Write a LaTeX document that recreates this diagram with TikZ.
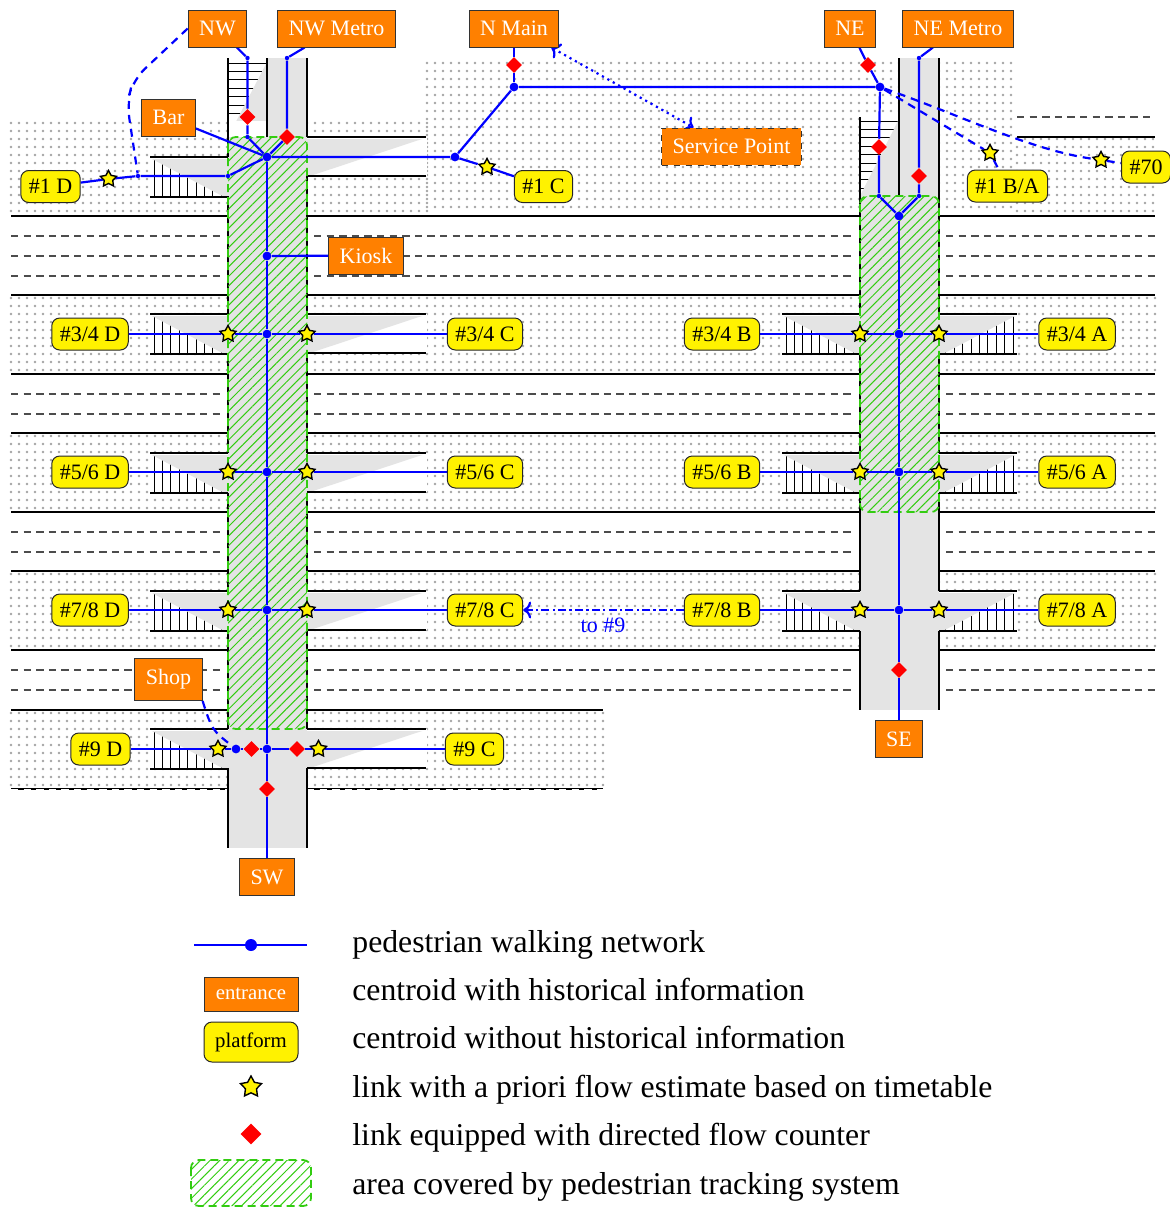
\documentclass[tikz,border=0pt]{standalone}
\usepackage{fontspec}
\setmainfont{Liberation Serif}
\usepackage{tikz}
\usetikzlibrary{arrows.meta,patterns.meta,positioning,shapes.geometric}
\usepackage{xcolor}
\definecolor{walk}{HTML}{0000FF}
\definecolor{exitor}{HTML}{FF8000}
\definecolor{pfyellow}{HTML}{FFF200}
\definecolor{counter}{HTML}{FF0000}
\definecolor{track}{HTML}{33CC11}
\definecolor{floorgray}{HTML}{E4E4E4}
\pgfdeclarelayer{plan}
\pgfdeclarelayer{links}
\pgfsetlayers{plan,links,main}
\tikzset{entrance/.style={draw=black!80,fill=exitor,text=white,line width=.5pt,inner xsep=5.5pt,inner ysep=0pt,minimum height=18.5pt,font=\fontsize{11}{13}\selectfont},platform/.style={draw=black!85,fill=pfyellow,rounded corners=4pt,line width=.5pt,inner xsep=4pt,inner ysep=0pt,minimum height=16pt,font=\fontsize{11}{13}\selectfont},walkdot/.style={circle,fill=walk,inner sep=0pt,minimum size=4.4pt},tinydot/.style={circle,fill=walk,inner sep=0pt,minimum size=2.2pt},flowstar/.style={star,star points=5,star point ratio=1.9,draw=black,fill=pfyellow,line width=.7pt,inner sep=0pt,minimum size=8.5pt},flowdiamond/.style={diamond,fill=counter,inner sep=0pt,minimum size=8pt},link/.style={walk,line width=1.1pt},dashedlink/.style={walk,line width=1.1pt,dash pattern=on 4pt off 3pt},dotarea/.style={fill=black!36},trackarea/.style={pattern={Lines[angle=45,distance=3.4pt,line width=.5pt]},pattern color=track,draw=track,line width=.9pt,dash pattern=on 4pt off 2.5pt,rounded corners=4pt},wall/.style={black,line width=1pt},lane/.style={black!70,line width=.55pt,dash pattern=on 3.7pt off 2.6pt},stairline/.style={black,line width=.45pt},legendtext/.style={anchor=base west,inner sep=0pt,font=\fontsize{15.87}{19}\selectfont}}
\begin{document}
\begin{tikzpicture}[x=.5pt,y=-.5pt]
\useasboundingbox (0,0) rectangle (1170,1207);
\begin{pgfonlayer}{plan}
% platform areas
\foreach \xa/\ya/\xb/\yb in {11/123/227/213,307/123/427/213,427/63/1013/213,1017/139/1155/213,11/298/1155/371,11/436/1155/509,11/574/1155/647,11/713/603/786} {
\pgfmathsetmacro{\xc}{\xa+8}
\pgfmathsetmacro{\yc}{\ya+8}
\foreach \yy in {\ya,\yc,...,\yb} \path[dotarea] \foreach \xx in {\xa,\xc,...,\xb} {(\xx,\yy) circle (1.3)};
}
% stairs on the left of a corridor wall
\foreach \xx/\yy in {228/157,228/314,228/453,228/591,228/729,860/314,860/453,860/591} {
\fill[white] (\xx-78,\yy) rectangle (\xx,\yy+40);
\foreach \ss in {1,...,9} \draw[stairline] (\xx-82.4+\ss*8.4,\yy+2) -- (\xx-82.4+\ss*8.4,\yy+40);
\fill[floorgray] (\xx-76,\yy+2) -- (\xx,\yy+2) -- (\xx,\yy+42) -- cycle;
\draw[wall] (\xx-78,\yy) -- (\xx,\yy) (\xx-78,\yy+40) -- (\xx,\yy+40);
}
% stairs on the right of the east corridor
\foreach \yy in {314,453,591} {
\fill[white] (939,\yy) rectangle (1017,\yy+40);
\foreach \ss in {1,...,9} \draw[stairline] (1021.4-\ss*8.4,\yy+2) -- (1021.4-\ss*8.4,\yy+40);
\fill[floorgray] (1015,\yy+2) -- (939,\yy+2) -- (939,\yy+42) -- cycle;
\draw[wall] (939,\yy) -- (1017,\yy) (939,\yy+40) -- (1017,\yy+40);
}
% ramps on the right of the west corridor
\foreach \yy in {137,314,453,591,729} {
\fill[white] (307,\yy) rectangle (427,\yy+39);
\fill[floorgray] (422,\yy+2) -- (307,\yy+2) -- (307,\yy+40) -- cycle;
\draw[wall] (307,\yy) -- (426,\yy) (307,\yy+39) -- (426,\yy+39);
}
% stairs at the north ends
\fill[white] (860,117) rectangle (899,196);
\foreach \ss in {0,...,8} {
\draw[stairline] (229,63+\ss*8.4) -- (266,63+\ss*8.4);
\draw[stairline] (861,121+\ss*8.4) -- (898,121+\ss*8.4);
}
\fill[floorgray] (267,62) -- (267,137) -- (228,137) -- cycle;
\fill[floorgray] (899,119) -- (899,196) -- (860,196) -- cycle;
% corridors
\fill[white] (228,121) rectangle (307,137) (899,58) rectangle (939,60);
\fill[floorgray] (228,137) rectangle (307,848);
\fill[floorgray] (267,58) rectangle (307,137);
\fill[floorgray] (860,196) rectangle (939,710);
\fill[floorgray] (899,58) rectangle (939,196);
% lanes
\foreach \yy in {216,295,374,433,512,571,650} \draw[wall] (11,\yy) -- (228,\yy) (307,\yy) -- (860,\yy) (939,\yy) -- (1155,\yy);
\foreach \yy in {236,256,276,394,414,532,552,670,690} \draw[lane] (11,\yy) -- (221,\yy) (314,\yy) -- (853,\yy) (946,\yy) -- (1155,\yy);
\foreach \yy in {710,789} \draw[wall] (11,\yy) -- (228,\yy) (307,\yy) -- (603,\yy);
\draw[lane,white,line width=.3pt] (11,789) -- (228,789) (307,789) -- (603,789);
\draw[lane] (1017,117) -- (1155,117);
\draw[wall] (1017,137) -- (1155,137);
% walls of the corridors
\draw[wall] (228,58) -- (228,157) (228,196) -- (228,314) (307,58) -- (307,137) (307,176) -- (307,314) (267,58) -- (267,137);
\draw[wall] (860,117) -- (860,314) (939,58) -- (939,314) (899,58) -- (899,196);
\foreach \xx in {228,307,860,939} \draw[wall] (\xx,354) -- (\xx,453) (\xx,493) -- (\xx,591);
\foreach \xx in {228,307} \draw[wall] (\xx,631) -- (\xx,729) (\xx,768) -- (\xx,848);
\foreach \xx in {860,939} \draw[wall] (\xx,631) -- (\xx,710);
% tracking
\path[trackarea] (228,137) rectangle (307,729);
\path[trackarea] (860,196) rectangle (939,512);
\end{pgfonlayer}
% entrances
\node[entrance] (NW) at (217.5,28.5) {NW};
\node[entrance] (NWMetro) at (336.5,28.5) {NW Metro};
\node[entrance] (NMain) at (514,28.5) {N Main};
\node[entrance] (NE) at (850,28.5) {NE};
\node[entrance] (NEMetro) at (958,28.5) {NE Metro};
\node[entrance] (Bar) at (168.5,117.5) {Bar};
\node[entrance,dashed] (ServicePoint) at (731.5,146.5) {Service Point};
\node[entrance] (Kiosk) at (366,255.5) {Kiosk};
\node[entrance,minimum height=21pt] (Shop) at (168.5,679.5) {Shop};
\node[entrance] (SW) at (267,877) {SW};
\node[entrance] (SE) at (899,739) {SE};
% platforms
\node[platform] (D1) at (50.5,186.5) {\#1 D};
\node[platform] (C1) at (543.5,186.5) {\#1 C};
\node[platform] (BA1) at (1007.5,186) {\#1 B/A};
\node[platform] (P70) at (1146,167) {\#70};
\node[platform] (D9) at (100.5,749) {\#9 D};
\node[platform] (C9) at (474.5,749) {\#9 C};
% junctions
\node[walkdot] (hubW) at (267,157) {};
\node[walkdot] (hubE) at (899,216) {};
\node[walkdot] (jC) at (455,157) {};
\node[walkdot] (jN) at (514,87) {};
\node[walkdot] (jNE) at (880,87) {};
\node[walkdot] (jKiosk) at (267,256) {};
\node[walkdot] (jDa) at (236,749) {};
\node[walkdot] (jDb) at (267,749) {};
\node[tinydot] (tNW) at (247.5,58) {};
\node[tinydot] (tNWb) at (247.5,137) {};
\node[tinydot] (tNWM) at (287,58) {};
\node[tinydot] (tD) at (228,176) {};
\node[tinydot] (tDb) at (138,176) {};
\node[tinydot] (tNEb) at (879,196) {};
\node[tinydot] (tNEM) at (919,58) {};
\node[tinydot] (tNEMb) at (919,196) {};
% counters
\node[flowdiamond] (cNW) at (247.5,117) {};
\node[flowdiamond] (cNWM) at (287,137) {};
\node[flowdiamond] (cN) at (514,65) {};
\node[flowdiamond] (cNE) at (868,65) {};
\node[flowdiamond] (cNEb) at (879,147) {};
\node[flowdiamond] (cNEM) at (919,176) {};
\node[flowdiamond] (cDa) at (251.5,749) {};
\node[flowdiamond] (cC) at (297,749) {};
\node[flowdiamond] (cSW) at (267,789) {};
\node[flowdiamond] (cSE) at (899,670) {};
% timetable links
\node[flowstar] (sD1) at (108.5,179) {};
\node[flowstar] (sC1) at (487,167) {};
\node[flowstar] (sBA) at (990,153) {};
\node[flowstar] (s70) at (1101,160) {};
\node[flowstar] (sD9) at (218,749) {};
\node[flowstar] (sC9) at (318.5,749) {};
\coordinate (bendA) at (133,80);
\coordinate (bendB) at (127,103);
\foreach \row/\yy in {3/334,5/472,7/610} {
\pgfmathtruncatemacro{\nxt}{\row+1}
\node[platform] (D\row) at (90,\yy) {\#\row/\nxt{} D};
\node[platform] (C\row) at (485,\yy) {\#\row/\nxt{} C};
\node[platform] (B\row) at (722,\yy) {\#\row/\nxt{} B};
\node[platform] (A\row) at (1077,\yy) {\#\row/\nxt{} A};
\node[walkdot] (jW\row) at (267,\yy) {};
\node[walkdot] (jE\row) at (899,\yy) {};
\node[flowstar] (sDa\row) at (228,\yy) {};
\node[flowstar] (sCa\row) at (307,\yy) {};
\node[flowstar] (sBa\row) at (860,\yy) {};
\node[flowstar] (sAa\row) at (939,\yy) {};
\begin{pgfonlayer}{links}
\draw[link] (D\row) -- (sDa\row) -- (jW\row) -- (sCa\row) -- (C\row);
\draw[link] (B\row) -- (sBa\row) -- (jE\row) -- (sAa\row) -- (A\row);
\end{pgfonlayer}
}
\node[font=\fontsize{11}{13}\selectfont,text=walk] (toNine) at (603,625) {to \#9};
\begin{pgfonlayer}{links}
\draw[link] (NW) -- (tNW) -- (cNW) -- (tNWb) -- (hubW);
\draw[link] (NWMetro) -- (tNWM) -- (cNWM) -- (hubW);
\draw[link] (Bar) -- (hubW);
\draw[link] (hubW) -- (tD) -- (tDb) -- (sD1) -- (D1);
\draw[dashedlink,rounded corners=8pt] (NW.west) -- (bendA) -- (bendB) -- (tDb);
\draw[link] (hubW) -- (jC) -- (jN) -- (jNE);
\draw[link] (jC) -- (sC1) -- (C1);
\draw[link] (NMain) -- (cN) -- (jN);
\draw[link] (NE) -- (cNE) -- (jNE) -- (cNEb) -- (tNEb) -- (hubE);
\draw[link] (NEMetro) -- (tNEM) -- (cNEM) -- (tNEMb) -- (hubE);
\draw[dashedlink] (jNE) -- (sBA) -- (BA1);
\draw[dashedlink] (jNE) .. controls (960,115) and (1030,150) .. (s70) -- (P70);
\draw[walk,line width=1.1pt,dotted,<->] ([xshift=-4pt]NMain.south east) -- ([xshift=-19pt]ServicePoint.north);
\draw[link] (hubW) -- (jKiosk) -- (jW3) -- (jW5) -- (jW7) -- (jDb) -- (cSW) -- (SW);
\draw[link] (jKiosk) -- (Kiosk);
\draw[link] (hubE) -- (jE3) -- (jE5) -- (jE7) -- (cSE) -- (SE);
\draw[link] (D9) -- (sD9) -- (jDa) -- (cDa) -- (jDb) -- (cC) -- (sC9) -- (C9);
\draw[dashedlink] (Shop.south east) .. controls (212,730) .. (jDa);
\draw[walk,line width=1.1pt,dash pattern=on 4pt off 1.6pt on 1.2pt off 1.6pt,->] (B7) -- (C7);
\end{pgfonlayer}
% legend
\coordinate (keyA) at (194,945);
\coordinate (keyB) at (307,945);
\node[walkdot,minimum size=6pt] (keyDot) at (251,945) {};
\begin{pgfonlayer}{links}
\draw[link] (keyA) -- (keyB);
\end{pgfonlayer}
\node[entrance,minimum width=47pt,minimum height=17pt,font=\fontsize{10.4}{12}\selectfont] (keyEntrance) at (251,994) {entrance};
\node[platform,minimum width=47pt,minimum height=20pt,font=\fontsize{10.4}{12}\selectfont] (keyPlatform) at (251,1042) {platform};
\node[flowstar,minimum size=11pt] (keyStar) at (251,1087) {};
\node[flowdiamond,minimum size=10.5pt] (keyDiamond) at (251,1134) {};
\path[trackarea] (191,1160) rectangle (311,1206);
\node[legendtext] (keyA1) at (352,952) {pedestrian walking network};
\node[legendtext] (keyA2) at (352,1000) {centroid with historical information};
\node[legendtext] (keyA3) at (352,1048) {centroid without historical information};
\node[legendtext] (keyA4) at (352,1097) {link with a priori flow estimate based on timetable};
\node[legendtext] (keyA5) at (352,1145) {link equipped with directed flow counter};
\node[legendtext] (keyA6) at (352,1194) {area covered by pedestrian tracking system};
\end{tikzpicture}
\end{document}
